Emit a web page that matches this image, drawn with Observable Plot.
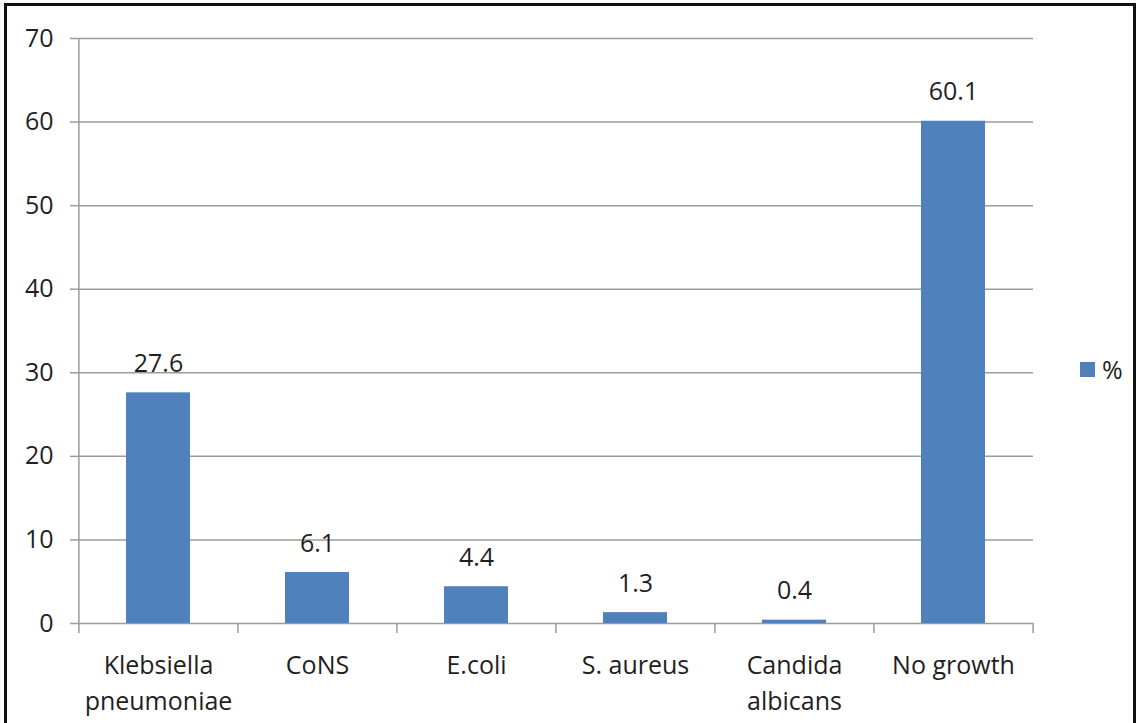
<!DOCTYPE html>
<html>
<head>
<meta charset="utf-8">
<script src="https://cdn.jsdelivr.net/npm/d3@7"></script>
<script src="https://cdn.jsdelivr.net/npm/@observablehq/plot@0.6"></script>
<style>
  html, body { margin: 0; padding: 0; background: #fff; }
  #wrap { position: relative; width: 1138px; height: 723px; overflow: hidden; font-family: "Open Sans", sans-serif; }
  #border { position: absolute; left: 4px; top: 3px; width: 1132px; height: 740px; border: 3px solid #111; box-sizing: border-box; pointer-events: none; }
  #legend { position: absolute; left: 1080px; top: 352px; display: flex; align-items: center; font-size: 25px; color: #1f1f1f; }
  #legend .sw { width: 15px; height: 15px; background: #4f81bd; margin-right: 7px; }
</style>
</head>
<body>
<div id="wrap">
  <div id="chart"></div>
  <div id="legend"><span class="sw"></span><span id="legend-label"></span></div>
  <div id="border"></div>
</div>
<script>
// Organisms isolated and their share of samples (%)
const categories = ["Klebsiella pneumoniae", "CoNS", "E.coli", "S. aureus", "Candida albicans", "No growth"];
const values = [27.6, 6.1, 4.4, 1.3, 0.4, 60.1];
const xTickLabels = ["Klebsiella\npneumoniae", "CoNS", "E.coli", "S. aureus", "Candida\nalbicans", "No growth"];
const yTicks = [0, 10, 20, 30, 40, 50, 60, 70];
const seriesName = "%";

const data = categories.map((c, i) => ({category: c, value: values[i]}));
const labelOf = new Map(categories.map((c, i) => [c, xTickLabels[i]]));

const W = 1138, H = 723;
const mL = 78, mR = 105, mT = 38, mB = 100;
const step = (W - mL - mR) / categories.length;
const gray = "#9c9c9c";

const chart = Plot.plot({
  width: W,
  height: H,
  marginLeft: mL,
  marginRight: mR,
  marginTop: mT,
  marginBottom: mB,
  style: {fontFamily: "Open Sans, sans-serif", fontSize: "25px", color: "#1f1f1f", background: "transparent"},
  x: {domain: categories, paddingInner: 0.6, paddingOuter: 0.3, label: null},
  y: {domain: [0, 70], label: null},
  marks: [
    // horizontal gridlines (0 acts as the category axis line)
    Plot.gridY(yTicks, {stroke: gray, strokeOpacity: 1, strokeWidth: 1.5}),
    // value axis with short outward ticks
    Plot.axisY(yTicks, {tickSize: 8, tickPadding: 17, stroke: gray, strokeWidth: 1.5, label: null}),
    // vertical value-axis line along the left edge of the first band
    Plot.ruleX([categories[0]], {y1: 0, y2: 70, dx: -step / 2, stroke: gray, strokeWidth: 1.5}),
    // category boundary ticks
    Plot.axisX({ticks: categories, tickSize: 10, text: null, dx: -step / 2, stroke: gray, strokeWidth: 1.5, label: null}),
    Plot.axisX({ticks: [categories[categories.length - 1]], tickSize: 10, text: null, dx: step / 2, stroke: gray, strokeWidth: 1.5, label: null}),
    // category labels
    Plot.axisX({tickSize: 0, tickPadding: 25, lineHeight: 1.45, tickFormat: d => labelOf.get(d), label: null}),
    Plot.barY(data, {x: "category", y: "value", fill: "#4f81bd"}),
    Plot.text(data, {x: "category", y: "value", text: d => d.value.toFixed(1), dy: -29, fill: "#1f1f1f"})
  ]
});

document.getElementById("chart").append(chart);
document.getElementById("legend-label").textContent = seriesName;
</script>
</body>
</html>
